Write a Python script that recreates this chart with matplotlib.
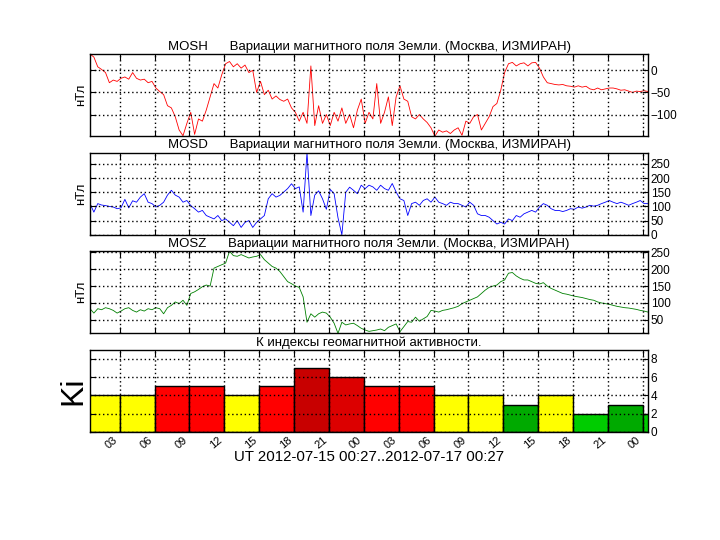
import datetime as dt
import matplotlib
matplotlib.use("Agg")
import matplotlib.pyplot as plt
import matplotlib.dates as mdates
from matplotlib.ticker import MultipleLocator

# ---------------- data ----------------
start = dt.datetime(2012, 7, 15, 0, 27)
end = dt.datetime(2012, 7, 17, 0, 27)
step_min = 20

mosh = [37, 30, 8, 2, -5, -28, -22, -25, -18, -15, -20, -5, -18, -22, -20, -28, -25, -40,
        -48, -55, -80, -85, -105, -135, -148, -120, -95, -145, -110, -115, -90, -60, -30, -40,
        -10, 15, 20, 8, 15, 5, 12, -5, 0, -50, -25, -55, -45, -65, -58, -66, -70, -65, -85,
        -95, -115, -95, -120, 10, -125, -80, -120, -100, -125, -95, -115, -85, -120, -100,
        -130, -90, -65, -120, -95, -110, -30, -120, -95, -60, -125, -60, -35, -65, -70, -105,
        -110, -100, -110, -118, -130, -149, -135, -140, -137, -143, -135, -130, -147, -115,
        -120, -105, -100, -135, -120, -105, -82, -75, -45, -5, 15, 18, 10, 15, 17, 10, 17, 18,
        5, -15, -28, -30, -32, -33, -32, -35, -36, -38, -35, -38, -36, -42, -44, -40, -44, -42,
        -40, -40, -42, -45, -44, -47, -50, -47, -48, -46, -48]

mosd = [110, 80, 110, 105, 103, 100, 98, 92, 95, 125, 95, 120, 115, 133, 145, 115, 110, 98,
        104, 115, 140, 157, 140, 133, 115, 121, 103, 92, 80, 86, 68, 62, 56, 68, 50, 56, 44,
        32, 50, 26, 44, 50, 26, 44, 56, 68, 127, 145, 133, 139, 151, 163, 180, 163, 169, 80,
        290, 68, 140, 155, 127, 90, 160, 145, 60, 0, 150, 168, 157, 145, 175, 163, 175, 169,
        157, 175, 163, 157, 181, 151, 127, 121, 68, 110, 115, 104, 121, 127, 115, 133, 115,
        110, 104, 115, 110, 110, 104, 98, 115, 104, 74, 68, 68, 62, 50, 38, 44, 38, 56, 50, 68,
        62, 74, 80, 86, 80, 98, 110, 104, 92, 86, 86, 82, 86, 92, 90, 98, 94, 98, 104, 101, 104,
        110, 115, 121, 115, 110, 115, 110, 104, 110, 115, 121, 110, 110]

mosz = [83, 70, 83, 80, 86, 83, 78, 70, 76, 83, 86, 78, 73, 80, 76, 83, 80, 86, 83, 68, 86,
        93, 103, 98, 108, 93, 128, 133, 140, 148, 153, 150, 203, 208, 213, 218, 253, 240, 238,
        243, 238, 233, 236, 238, 243, 228, 218, 208, 203, 193, 178, 163, 157, 150, 146, 118,
        43, 68, 58, 68, 73, 70, 58, 40, 10, 43, 35, 38, 40, 33, 25, 20, 16, 18, 20, 23, 18, 28,
        33, 38, 15, 30, 45, 43, 58, 46, 53, 60, 78, 76, 73, 78, 80, 83, 86, 90, 98, 103, 108,
        113, 118, 128, 138, 146, 150, 153, 163, 168, 188, 190, 180, 173, 168, 168, 163, 158,
        156, 160, 150, 143, 138, 133, 128, 126, 123, 120, 118, 116, 113, 110, 108, 103, 100,
        98, 96, 93, 90, 88, 86, 85, 83, 81, 78, 76, 73]

ki_start = dt.datetime(2012, 7, 15, 0, 0)
ki_values = [4, 4, 5, 5, 4, 5, 7, 6, 5, 5, 4, 4, 3, 4, 2, 3, 2]
ki_colors = {2: "#00cc00", 3: "#00aa00", 4: "#ffff00", 5: "#ff0000", 6: "#dc0000", 7: "#c80000"}

title_tail = "Вариации магнитного поля Земли. (Москва, ИЗМИРАН)"
series = [("MOSH", mosh, "red"), ("MOSD", mosd, "blue"), ("MOSZ", mosz, "green")]

# ---------------- plot ----------------
plt.rcParams["font.family"] = ["Liberation Sans", "DejaVu Sans"]
fig, axes = plt.subplots(4, 1, figsize=(7.2, 5.4), dpi=100, sharex=True)
fig.subplots_adjust(left=0.125, right=0.9, top=0.9, bottom=0.2, hspace=0.2)

def style_axis(ax):
    ax.yaxis.tick_right()
    ax.tick_params(axis="both", which="both", direction="in", length=4,
                   left=True, right=True, top=True, bottom=True, labelsize=8.5, pad=2)
    ax.grid(True, color="black", linestyle=(0, (1, 2)), linewidth=1)
    ax.set_axisbelow(False)
    for s in ax.spines.values():
        s.set_linewidth(1)

for ax, (name, vals, col) in zip(axes[:3], series):
    times = [start + dt.timedelta(minutes=step_min * i) for i in range(len(vals))]
    ax.plot(times, vals, color=col, linewidth=0.6)
    ax.set_ylim(min(vals), max(vals))
    ax.yaxis.set_major_locator(MultipleLocator(50))
    ax.set_title(name + "      " + title_tail, fontsize=9.5, pad=3)
    ax.set_ylabel("нТл", fontsize=9.5, labelpad=2)
    style_axis(ax)
    ax.tick_params(labelbottom=False)

axk = axes[3]
ki_times = [ki_start + dt.timedelta(hours=3 * i) for i in range(len(ki_values))]
axk.bar(ki_times, ki_values, width=dt.timedelta(hours=3), align="edge",
        color=[ki_colors[v] for v in ki_values], edgecolor="black", linewidth=1)
axk.set_ylim(0, 9)
axk.yaxis.set_major_locator(MultipleLocator(2))
axk.set_title("К индексы геомагнитной активности.", fontsize=9.5, pad=3)
axk.set_ylabel("Ki", fontsize=23, labelpad=1)
style_axis(axk)

axk.set_xlim(start, end)
axk.xaxis.set_major_locator(mdates.HourLocator(byhour=range(0, 24, 3)))
axk.xaxis.set_major_formatter(mdates.DateFormatter("%H"))
for lbl in axk.get_xticklabels():
    lbl.set_rotation(40)
    lbl.set_ha("right")
    lbl.set_fontsize(8)
axk.set_xlabel("UT " + start.strftime("%Y-%m-%d %H:%M") + ".." + end.strftime("%Y-%m-%d %H:%M"),
               fontsize=10.8, labelpad=0)

fig.savefig("out.png", dpi=100)
